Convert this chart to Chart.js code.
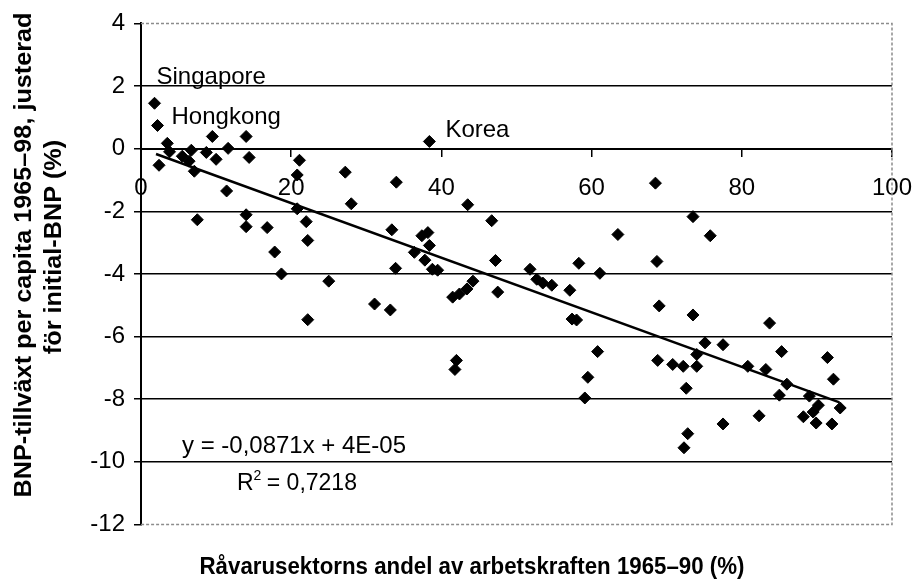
<!DOCTYPE html>
<html>
<head>
<meta charset="utf-8">
<title>Råvarusektorn och BNP-tillväxt</title>
<script src="https://cdn.jsdelivr.net/npm/chart.js@4.4.0/dist/chart.umd.min.js"></script>
<style>
  html, body { margin: 0; padding: 0; background: #fff; }
  #wrap { width: 917px; height: 580px; }
</style>
</head>
<body>
<div id="wrap"><canvas id="chart" width="917" height="580"></canvas></div>
<script>
// Råvarusektorns andel av arbetskraften (x) och justerad BNP-tillväxt (y)
// De tre första punkterna är de namngivna länderna
const countryNames = ['Singapore', 'Hongkong', 'Korea'];

const rawShare = [
    1.8, 2.2, 38.4, 3.5, 3.8, 2.4, 9.5, 14.0, 5.5, 6.7,
    6.4, 7.1, 8.7, 10.0, 11.6, 14.4, 21.1, 20.8, 11.4, 7.5,
    14.0, 14.0, 16.8, 20.8, 22.0, 22.2, 17.8, 18.7, 22.2, 25.0,
    27.2, 34.0, 28.0, 43.5, 46.7, 33.4, 37.4, 38.2, 38.4, 36.4,
    37.8, 38.8, 39.5, 33.9, 47.2, 44.2, 31.1, 33.2, 41.5, 42.4,
    43.4, 47.5, 42.0, 41.8, 73.5, 63.5, 68.7, 58.3, 51.8, 61.1,
    52.7, 53.5, 54.7, 57.1, 57.4, 58.0, 69.0, 73.5, 60.8, 59.5,
    59.1, 68.8, 70.8, 72.2, 74.0, 74.0, 72.6, 83.7, 75.1, 77.5,
    85.3, 91.4, 80.8, 83.2, 92.2, 86.0, 85.0, 89.0, 90.2, 93.1,
    89.5, 82.3, 88.2, 77.5, 89.9, 92.0, 72.8, 72.3, 68.5, 75.8
];

const gdpGrowth = [
    1.45, 0.74, 0.23, 0.17, -0.10, -0.53, 0.39, 0.39, -0.24, -0.05,
    -0.40, -0.72, -0.12, -0.34, 0.01, -0.28, -0.37, -0.84, -1.35, -2.27,
    -2.11, -2.49, -2.52, -1.92, -2.33, -2.93, -3.30, -4.00, -5.46, -4.23,
    -0.75, -1.07, -1.76, -1.79, -2.30, -2.59, -2.78, -2.68, -3.09, -3.31,
    -3.56, -3.85, -3.88, -3.82, -3.57, -4.23, -4.96, -5.15, -4.74, -4.64,
    -4.48, -4.58, -6.76, -7.05, -2.17, -2.74, -3.60, -3.66, -3.85, -3.98,
    -4.17, -4.29, -4.36, -4.52, -5.44, -5.47, -5.02, -5.31, -6.48, -7.30,
    -7.96, -6.76, -6.89, -6.95, -6.57, -6.95, -7.65, -5.57, -6.20, -6.26,
    -6.48, -6.67, -6.95, -7.05, -7.36, -7.52, -7.87, -7.90, -8.19, -8.28,
    -8.41, -8.53, -8.56, -8.79, -8.76, -8.79, -9.10, -9.55, -1.10, -2.78
];

// Trendlinjens ändpunkter (avlästa)
const trendX = [2, 93];
const trendY = [-0.17, -8.10];

const xTicks = [0, 20, 40, 60, 80, 100];
const yTicks = [4, 2, 0, -2, -4, -6, -8, -10, -12];

const equationText = 'y = -0,0871x + 4E-05';
const r2Value = ' = 0,7218';
const xTitle = 'Råvarusektorns andel av arbetskraften 1965–90 (%)';
const yTitle = ['BNP-tillväxt per capita 1965–98, justerad', 'för initial-BNP (%)'];

const points = rawShare.map((x, i) => ({ x: x, y: gdpGrowth[i] }));
const trend = trendX.map((x, i) => ({ x: x, y: trendY[i] }));

const FONT = '"Liberation Sans", Arial, sans-serif';

// draw text squeezed or stretched to a given width
function drawFitted(ctx, text, x, y, width) {
    const w = ctx.measureText(text).width;
    ctx.save();
    ctx.translate(x, y);
    ctx.scale(width / w, 1);
    ctx.fillText(text, 0, 0);
    ctx.restore();
}

const decorations = {
    id: 'decorations',
    beforeDatasetsDraw(chart) {
        const { ctx, chartArea: a } = chart;
        // dotted frame on top, right and bottom
        ctx.save();
        ctx.strokeStyle = '#8c8c8c';
        ctx.lineWidth = 1.5;
        ctx.setLineDash([3, 2]);
        ctx.beginPath();
        ctx.moveTo(a.left, a.top);
        ctx.lineTo(a.right, a.top);
        ctx.lineTo(a.right, a.bottom);
        ctx.lineTo(a.left, a.bottom);
        ctx.stroke();
        ctx.restore();
    },
    afterDatasetsDraw(chart) {
        const { ctx } = chart;
        const xs = chart.scales.x;
        const ys = chart.scales.y;
        const offsets = [[2, -26], [14, -8], [16, -11]];

        ctx.save();
        ctx.fillStyle = '#000';
        ctx.textBaseline = 'middle';
        ctx.textAlign = 'left';
        ctx.font = '24px ' + FONT;
        countryNames.forEach((name, i) => {
            const px = xs.getPixelForValue(rawShare[i]);
            const py = ys.getPixelForValue(gdpGrowth[i]);
            ctx.fillText(name, px + offsets[i][0], py + offsets[i][1]);
        });

        // regression equation
        ctx.font = '23px ' + FONT;
        drawFitted(ctx, equationText, 182, 447, 224);
        // R with superscript 2
        ctx.fillText('R', 237, 484);
        let rx = 237 + ctx.measureText('R').width;
        ctx.font = '14px ' + FONT;
        ctx.fillText('2', rx, 476);
        rx += ctx.measureText('2').width;
        ctx.font = '23px ' + FONT;
        ctx.fillText(r2Value, rx - 1, 484);

        // axis titles
        ctx.font = 'bold 23px ' + FONT;
        ctx.textAlign = 'center';
        const w1 = ctx.measureText(yTitle[0]).width;
        const s = 485 / w1;
        ctx.save();
        ctx.translate(25, 255);
        ctx.rotate(-Math.PI / 2);
        drawFitted(ctx, yTitle[0], 0, 0, w1 * s);
        ctx.restore();
        ctx.save();
        ctx.translate(55, 247);
        ctx.rotate(-Math.PI / 2);
        drawFitted(ctx, yTitle[1], 0, 0, ctx.measureText(yTitle[1]).width * s);
        ctx.restore();

        drawFitted(ctx, xTitle, 472, 568, 545);
        ctx.restore();
    }
};

const chart = new Chart(document.getElementById('chart'), {
    type: 'scatter',
    data: {
        datasets: [
            {
                label: 'Länder',
                data: points,
                pointStyle: 'rectRot',
                pointRadius: 6,
                backgroundColor: '#000',
                borderColor: '#000',
                borderWidth: 1
            },
            {
                label: 'Trend',
                data: trend,
                showLine: true,
                pointRadius: 0,
                borderColor: '#000',
                borderWidth: 2.5
            }
        ]
    },
    options: {
        responsive: false,
        animation: false,
        layout: { padding: { top: 20, right: 25, bottom: 55.5, left: 0 } },
        plugins: {
            legend: { display: false },
            tooltip: { enabled: false }
        },
        scales: {
            x: {
                type: 'linear',
                position: { y: 0 },
                min: 0,
                max: 100,
                afterBuildTicks: (scale) => { scale.ticks = xTicks.map(v => ({ value: v })); },
                afterFit: (scale) => { scale.paddingLeft = 0; scale.paddingRight = 0; },
                ticks: {
                    color: '#000',
                    padding: 18,
                    font: { family: FONT, size: 24 }
                },
                grid: {
                    drawOnChartArea: false,
                    drawTicks: true,
                    tickLength: 7,
                    color: '#000',
                    lineWidth: 1.5
                },
                border: { color: '#000', width: 2 }
            },
            y: {
                type: 'linear',
                min: -12,
                max: 4,
                afterBuildTicks: (scale) => { scale.ticks = yTicks.map(v => ({ value: v })); },
                afterFit: (scale) => { scale.width = 141; },
                ticks: {
                    color: '#000',
                    padding: 9,
                    font: { family: FONT, size: 24 }
                },
                grid: {
                    color: (c) => (c.tick && (c.tick.value === 4 || c.tick.value === -12)) ? 'rgba(0,0,0,0)' : '#000',
                    tickColor: '#000',
                    lineWidth: 1.5,
                    tickLength: 7
                },
                border: { color: '#000', width: 2 }
            }
        }
    },
    plugins: [decorations]
});
</script>
</body>
</html>
